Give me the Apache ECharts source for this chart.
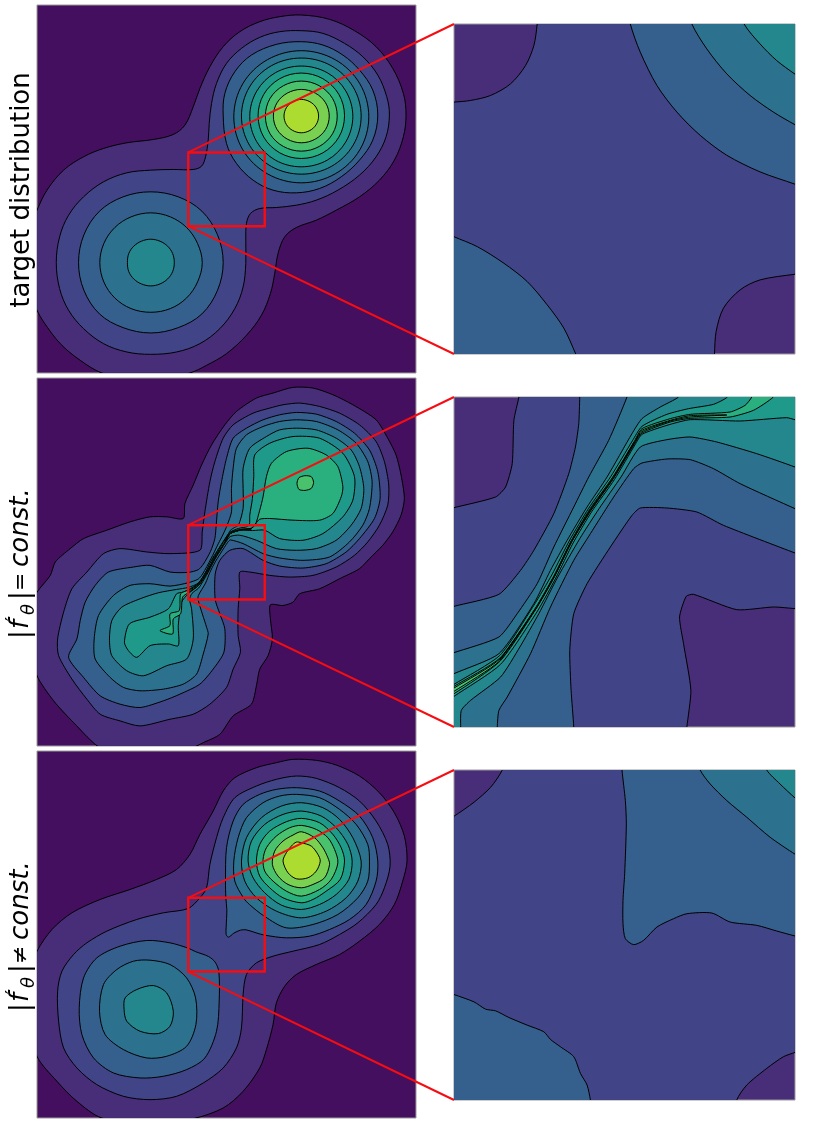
<!DOCTYPE html>
<html>
<head>
<meta charset="utf-8">
<title>contours</title>
<script src="https://cdn.jsdelivr.net/npm/echarts@6/dist/echarts.min.js"></script>
<style>
  html, body { margin: 0; padding: 0; background: #fff; }
  #chart { width: 831px; height: 1124px; }
</style>
</head>
<body>
<div id="chart"></div>
<script>
// band colours, outermost to innermost
const viridis = ['#440f5e', '#482d78', '#414487', '#355f8d', '#2c728e', '#24878e', '#1f9a8a', '#2ab07f', '#4ac16d', '#7ad151', '#addc30'];

// ---- target distribution, whole view ----
const targetL1 = [[815,45],[900,58],[975,92],[1040,140],[1090,205],[1122,280],[1130,345],[1122,410],[1095,480],[1050,540],[990,590],[920,630],[860,660],[800,682],[765,710],[745,760],[735,820],[722,880],[695,945],[650,1005],[590,1060],[530,1095],[480,1118],[420,1130],[350,1135],[280,1130],[215,1118],[150,1080],[90,1030],[40,965],[20,930],[0,880],[-10,790],[0,680],[20,630],[50,570],[100,510],[160,470],[220,445],[290,428],[370,418],[430,403],[465,375],[490,320],[510,265],[540,200],[580,140],[630,95],[690,65],[750,50]];
const targetL2 = [[815,92],[880,100],[945,130],[1000,170],[1045,225],[1072,290],[1080,345],[1070,410],[1040,470],[990,525],[925,570],[860,600],[800,615],[740,622],[690,625],[662,640],[650,670],[648,720],[648,790],[640,860],[615,925],[570,985],[510,1030],[440,1055],[362,1062],[290,1055],[220,1030],[160,985],[115,930],[88,865],[78,787],[88,710],[115,645],[160,590],[220,545],[290,518],[362,510],[430,508],[490,508],[515,498],[527,470],[535,420],[538,370],[545,310],[560,250],[590,190],[635,145],[690,112],[750,95]];
const targetL3a = [[815,125],[880,135],[940,165],[990,210],[1030,270],[1045,345],[1030,420],[990,480],[935,530],[870,565],[800,578],[730,570],[670,540],[620,490],[590,430],[580,345],[585,280],[615,215],[665,165],[740,133]];
const targetL3b = [[362,575],[445,590],[516,633],[563,704],[580,787],[563,870],[516,941],[445,982],[362,998],[279,982],[208,941],[161,870],[145,787],[161,704],[208,633],[279,590]];
const targetL4a = [[815,152],[917,179],[991,251],[1018,350],[991,449],[917,521],[815,548],[713,521],[639,449],[612,350],[639,251],[713,179]];
const targetL4b = [[362,638],[421,650],[470,682],[503,730],[517,787],[503,845],[470,893],[421,925],[362,936],[303,925],[254,893],[221,845],[209,787],[221,730],[254,682],[303,650]];
const targetL5a = [[815,174],[905,197],[971,261],[995,348],[971,435],[905,499],[815,522],[725,499],[659,435],[635,348],[659,261],[725,197]];
const targetL5b = [[362,717],[390,723],[413,738],[428,760],[433,787],[428,814],[413,836],[390,851],[362,857],[334,851],[311,836],[296,814],[292,787],[296,760],[311,738],[334,723]];
const targetL6 = [[815,198],[893,218],[949,273],[970,349],[949,425],[893,480],[815,500],[737,480],[681,425],[660,349],[681,273],[737,218]];
const targetL7 = [[815,219],[880,236],[928,283],[945,347],[928,411],[880,458],[815,475],[750,458],[702,411],[685,347],[702,283],[750,236]];
const targetL8 = [[815,243],[869,257],[909,295],[923,348],[909,401],[869,439],[815,453],[761,439],[721,401],[707,348],[721,295],[761,257]];
const targetL9 = [[815,268],[857,279],[888,308],[899,348],[888,388],[857,417],[815,428],[773,417],[742,388],[731,348],[742,308],[773,279]];
const targetL10 = [[815,298],[841,305],[860,323],[867,348],[860,373],[841,391],[815,398],[789,391],[770,373],[763,348],[770,323],[789,305]];

// ---- target distribution, close-up ----
const targetZoomL2 = [[290,0],[290,25],[280,90],[255,150],[210,205],[150,240],[90,255],[40,260],[0,262],[0,1050],[823,1050],[823,1018],[828,950],[850,880],[900,825],[960,795],[1065,778],[1100,775],[1100,0]];
const targetZoomL3a = [[570,0],[570,25],[600,110],[650,210],[710,290],[780,360],[860,420],[960,470],[1065,507],[1100,520],[1100,0]];
const targetZoomL3b = [[0,645],[40,665],[110,695],[190,745],[260,800],[320,870],[370,940],[406,1018],[420,1050],[0,1050]];
const targetZoomL4 = [[755,0],[755,25],[800,100],[860,175],[930,240],[1000,290],[1065,328],[1100,345],[1100,0]];
const targetZoomL5 = [[912,0],[912,25],[960,85],[1010,135],[1065,176],[1100,200],[1100,0]];

// ---- const. model, whole view ----
const constL1 = [[790,38],[850,40],[910,60],[970,90],[1040,135],[1075,190],[1100,240],[1115,300],[1125,370],[1115,420],[1090,470],[1060,510],[1020,550],[990,580],[930,610],[870,640],[810,655],[790,680],[760,690],[722,688],[722,730],[728,790],[715,840],[690,880],[680,930],[665,985],[610,1020],[570,1075],[520,1100],[480,1118],[350,1135],[215,1118],[130,1040],[70,975],[20,900],[-5,800],[-5,700],[20,650],[60,600],[75,560],[120,520],[160,490],[230,465],[300,440],[360,425],[410,425],[460,430],[465,385],[490,330],[515,270],[545,210],[585,150],[620,110],[680,70],[730,55]];
const constL2 = [[760,90],[810,85],[870,95],[930,115],[990,150],[1040,200],[1065,260],[1078,330],[1075,390],[1050,450],[1015,500],[975,540],[920,575],[850,600],[780,605],[720,600],[660,590],[630,590],[630,640],[625,700],[625,780],[632,830],[610,880],[590,935],[540,985],[490,1015],[420,1030],[330,1050],[270,1035],[210,1015],[170,970],[125,910],[85,840],[82,790],[100,710],[125,640],[170,590],[220,535],[270,520],[350,530],[420,535],[510,525],[517,470],[525,410],[540,320],[555,260],[580,190],[610,150],[670,115],[720,100]];
const constL3 = [[800,113],[860,118],[920,140],[975,175],[1020,225],[1045,290],[1052,370],[1035,430],[990,490],[950,530],[890,565],[820,578],[750,572],[700,555],[640,520],[600,525],[570,555],[556,596],[556,672],[570,715],[585,760],[582,830],[550,880],[510,925],[450,955],[400,975],[330,995],[270,985],[210,960],[160,905],[115,845],[140,790],[150,735],[165,680],[195,630],[235,590],[310,575],[360,570],[420,590],[475,591],[505,583],[520,567],[542,528],[555,490],[559,450],[565,380],[575,320],[590,250],[610,190],[650,160],[700,135],[750,120]];
const constL4 = [[800,135],[860,140],[925,165],[980,205],[1015,260],[1028,320],[1020,400],[1000,450],[960,500],[900,545],[820,555],[750,548],[700,535],[640,505],[602,494],[596,498],[583,517],[556,560],[540,591],[527,623],[505,661],[505,675],[530,755],[535,775],[520,835],[500,895],[460,925],[400,940],[330,945],[280,935],[240,905],[195,850],[192,790],[205,720],[250,660],[300,630],[360,625],[420,632],[475,622],[505,611],[518,596],[543,551],[566,504],[579,479],[592,450],[605,410],[605,340],[610,280],[620,220],[650,180],[700,155],[750,140]];
const constL5 = [[800,160],[860,165],[920,190],[965,225],[990,275],[1003,340],[995,400],[965,450],[920,495],[860,520],[800,525],[740,520],[680,495],[630,480],[601,484],[587,502],[572,525],[559,545],[545,571],[532,596],[519,618],[506,638],[486,654],[479,672],[485,700],[490,790],[470,850],[410,870],[340,900],[290,885],[245,840],[238,790],[245,735],[275,695],[330,670],[385,652],[440,642],[475,636],[505,623],[527,591],[539,567],[550,546],[564,524],[577,504],[596,475],[602,465],[614,457],[626,450],[640,400],[640,340],[640,280],[660,220],[710,185],[750,165]];
const constL6 = [[675,240],[720,205],[790,185],[870,190],[940,235],[975,305],[970,375],[940,425],[880,475],[820,495],[750,490],[705,465],[668,466],[634,465],[602,475],[588,497],[574,517],[559,541],[546,563],[534,586],[523,606],[506,630],[475,655],[455,680],[445,750],[445,810],[415,805],[360,810],[320,845],[295,825],[283,800],[298,745],[360,725],[415,700],[440,655],[460,650],[475,643],[506,624],[528,589],[540,564],[552,545],[565,523],[578,503],[594,479],[602,470],[619,462],[633,458],[650,455],[659,448],[660,420],[668,370],[672,305]];
const constL7 = [[678,445],[690,432],[720,430],[790,435],[870,435],[910,415],[935,365],[940,335],[925,275],[890,240],[835,220],[770,230],[725,265],[710,305],[700,365],[690,405],[676,450],[661,460],[634,462],[602,471],[595,480],[580,502],[554,546],[529,591],[506,625],[475,644],[452,655],[448,705],[420,715],[420,750],[390,765],[428,775],[430,730],[452,715],[458,665],[475,652],[506,629],[530,593],[555,548],[582,507],[597,480],[602,474],[634,464],[661,463]];
const constL8a = [[802,325],[808,308],[826,302],[845,305],[852,322],[845,340],[826,346],[808,343]];
const constL8b = [[475,647],[506,627],[530,591],[555,547],[582,505],[597,478],[602,472],[634,463],[665,461],[634,464],[602,474],[597,480],[582,507],[556,549],[531,593],[507,629],[475,650]];

// ---- const. model, close-up ----
const constZoomL2 = [[235,0],[235,20],[220,90],[215,220],[195,290],[165,320],[40,352],[0,362],[0,1050],[737,1050],[740,1010],[752,900],[730,760],[718,680],[738,618],[760,612],[890,658],[1000,650],[1065,655],[1100,660],[1100,0]];
const constZoomL3 = [[418,0],[418,20],[415,100],[405,170],[385,250],[340,370],[280,480],[240,540],[175,612],[40,648],[0,660],[0,1050],[400,1050],[400,1010],[392,900],[388,780],[400,670],[440,580],[510,470],[575,375],[600,353],[680,353],[770,365],[850,405],[1065,488],[1100,500],[1100,0]];
const constZoomL4 = [[562,0],[560,20],[505,150],[445,260],[400,350],[340,470],[290,580],[230,670],[175,740],[40,787],[0,800],[0,1050],[170,1050],[170,1010],[175,960],[200,920],[270,790],[330,650],[400,510],[450,430],[520,320],[580,235],[605,218],[680,206],[750,208],[820,235],[900,280],[1065,355],[1100,370],[1100,0]];
const constZoomL5 = [[715,0],[715,20],[660,50],[605,85],[575,130],[500,260],[440,350],[380,450],[330,540],[280,640],[175,790],[40,850],[0,870],[0,1050],[60,1050],[60,1010],[62,960],[90,930],[180,860],[238,770],[295,670],[352,560],[418,445],[476,355],[542,260],[600,170],[680,148],[750,140],[830,155],[950,190],[1065,230],[1100,245],[1100,0]];
const constZoomL6 = [[862,0],[862,20],[820,42],[745,55],[680,72],[605,108],[576,152],[511,259],[444,355],[388,449],[335,552],[280,645],[178,795],[40,882],[0,905],[0,945],[40,918],[180,822],[291,662],[346,563],[398,458],[454,364],[522,268],[586,160],[605,132],[680,105],[750,88],[900,92],[1040,82],[1065,88],[1100,92],[1100,0]];
const constZoomL7 = [[935,0],[935,20],[915,45],[870,65],[750,72],[690,85],[605,115],[581,155],[516,262],[447,358],[392,452],[340,557],[285,653],[178,803],[40,888],[0,912],[0,925],[40,910],[178,813],[286,656],[342,559],[394,454],[451,361],[519,265],[584,158],[605,128],[690,95],[750,84],[870,80],[940,60],[1000,20],[1000,0]];
const constZoomL8 = [[0,915],[40,893],[178,806],[285,654],[341,558],[393,453],[449,359],[517,263],[582,156],[605,120],[690,90],[750,76],[860,74],[750,80],[690,92],[605,124],[583,157],[518,264],[450,360],[393,453],[341,558],[286,655],[178,811],[40,903],[0,925]];
const constZoomL9 = [[178,809],[285,655],[341,558],[393,453],[450,360],[517,264],[581,156],[518,265],[451,361],[394,454],[342,559],[286,656]];

// ---- non-const. model, whole view ----
const flexL1 = [[790,35],[860,38],[920,52],[990,85],[1050,135],[1095,195],[1125,265],[1133,340],[1120,400],[1095,470],[1050,530],[990,580],[930,620],[860,650],[800,680],[765,715],[740,765],[730,830],[710,905],[690,960],[640,1030],[580,1080],[490,1112],[360,1130],[215,1110],[140,1060],[80,1000],[20,925],[-10,800],[-5,680],[20,610],[65,545],[125,495],[210,455],[300,425],[380,395],[440,365],[480,320],[510,260],[550,190],[580,130],[615,90],[680,60],[740,45]];
const flexL2 = [[800,85],[860,92],[930,120],[990,160],[1040,220],[1075,290],[1082,355],[1065,420],[1040,470],[985,525],[930,560],[870,590],[790,610],[730,625],[680,645],[650,680],[640,740],[635,840],[620,900],[580,960],[520,1005],[440,1045],[360,1055],[280,1045],[200,1010],[140,960],[100,900],[85,820],[82,730],[95,670],[130,620],[170,585],[230,550],[320,515],[400,495],[475,482],[510,450],[530,420],[540,350],[560,270],[580,210],[615,150],[680,115],[740,95]];
const flexL3a = [[800,120],[870,130],[930,160],[990,205],[1030,270],[1045,340],[1040,400],[1010,470],[960,515],[900,545],[840,565],[770,570],[705,562],[679,555],[649,546],[632,547],[612,556],[596,568],[589,560],[589,538],[591,486],[588,450],[587,400],[590,300],[610,220],[640,170],[690,140],[740,125]];
const flexL3b = [[475,601],[496,611],[536,626],[556,643],[567,672],[568,760],[560,850],[525,930],[470,965],[400,985],[330,990],[250,975],[190,930],[155,860],[147,780],[160,690],[200,630],[270,595],[350,578],[420,585]];
const flexL4a = [[800,140],[870,150],[930,185],[980,230],[1015,290],[1020,340],[1015,400],[985,450],[925,500],[850,530],[770,540],[705,506],[659,470],[641,450],[615,400],[612,340],[625,270],[650,210],[700,165],[750,145]];
const flexL4b = [[360,637],[420,650],[470,690],[497,750],[498,830],[470,895],[410,925],[350,930],[280,905],[225,860],[208,790],[220,710],[260,665],[310,640]];
const flexL5a = [[815,165],[880,180],[930,215],[970,270],[995,340],[985,400],[950,450],[890,490],[815,510],[740,490],[680,450],[645,400],[635,340],[650,270],[695,210],[755,175]];
const flexL5b = [[285,750],[320,725],[370,713],[410,735],[430,790],[420,835],[385,857],[330,850],[290,820],[282,785]];
const flexL6 = [[815,190],[875,205],[920,240],[955,290],[968,340],[958,395],[920,440],[870,470],[815,485],[755,472],[705,435],[670,390],[655,340],[665,280],[705,230],[760,200]];
const flexL7 = [[815,212],[870,225],[910,260],[935,300],[945,340],[932,395],[890,430],[850,455],[815,465],[760,450],[720,420],[690,385],[680,340],[690,290],[720,250],[770,222]];
const flexL8 = [[815,233],[860,245],[895,270],[915,305],[925,345],[905,395],[870,425],[815,445],[770,430],[730,400],[705,370],[700,335],[710,300],[740,265],[780,240]];
const flexL9 = [[815,252],[855,270],[880,300],[895,330],[900,350],[885,390],[850,410],[815,420],[775,410],[745,385],[728,350],[735,310],[760,280],[790,262]];
const flexL10 = [[800,283],[815,285],[845,295],[865,320],[872,340],[860,370],[835,390],[800,393],[775,375],[760,340],[770,315],[785,295]];

// ---- non-const. model, close-up ----
const flexZoomL2 = [[185,0],[185,28],[150,80],[100,125],[40,167],[0,190],[0,1060],[890,1060],[890,1020],[920,975],[980,925],[1030,890],[1065,877],[1100,865],[1100,0]];
const flexZoomL3a = [[545,0],[545,28],[555,120],[558,190],[553,340],[548,420],[548,490],[555,535],[580,553],[610,540],[650,500],[700,475],[740,460],[815,458],[870,485],[950,495],[1010,512],[1065,527],[1100,535],[1100,0]];
const flexZoomL3b = [[0,690],[40,703],[100,725],[135,747],[165,752],[205,772],[260,795],[310,815],[330,838],[360,860],[400,890],[420,940],[440,975],[450,1020],[455,1060],[0,1060]];
const flexZoomL4 = [[780,0],[780,28],[810,70],[860,120],[920,170],[990,230],[1065,281],[1100,300],[1100,0]];
const flexZoomL5 = [[980,0],[980,28],[1020,70],[1065,112],[1100,140],[1100,0]];

// red zoom boxes on the whole views
const targetBox = [[475,457],[705,678]];
const constBox = [[475,450],[705,672]];
const flexBox = [[475,450],[705,671]];

const panels = [
  {
    grid: { left: 37, top: 5, width: 379, height: 368 }, x: [20,1160], y: [15,1118], base: 0, box: targetBox, zoomTo: 3, smooth: 0.35,
    levels: [[1,targetL1],[2,targetL2],[3,targetL3a],[3,targetL3b],[4,targetL4a],[4,targetL4b],[5,targetL5a],[5,targetL5b],[6,targetL6],[7,targetL7],[8,targetL8],[9,targetL9],[10,targetL10]],
  },
  {
    grid: { left: 37, top: 378, width: 379, height: 368 }, x: [20,1160], y: [10,1110], base: 0, box: constBox, zoomTo: 4, smooth: 0.25,
    levels: [[1,constL1],[2,constL2],[3,constL3],[4,constL4],[5,constL5],[6,constL6],[7,constL7],[8,constL8a],[8,constL8b]],
  },
  {
    grid: { left: 37, top: 751, width: 379, height: 367 }, x: [20,1160], y: [10,1110], base: 0, box: flexBox, zoomTo: 5, smooth: 0.3,
    levels: [[1,flexL1],[2,flexL2],[3,flexL3a],[3,flexL3b],[4,flexL4a],[4,flexL4b],[5,flexL5a],[5,flexL5b],[6,flexL6],[7,flexL7],[8,flexL8],[9,flexL9],[10,flexL10]],
  },
  {
    grid: { left: 454, top: 24, width: 341, height: 330 }, x: [40,1065], y: [25,1018], base: 1, smooth: 0.3,
    levels: [[2,targetZoomL2],[3,targetZoomL3a],[3,targetZoomL3b],[4,targetZoomL4],[5,targetZoomL5]],
  },
  {
    grid: { left: 454, top: 397, width: 341, height: 330 }, x: [40,1065], y: [20,1010], base: 1, smooth: 0.2,
    levels: [[2,constZoomL2],[3,constZoomL3],[4,constZoomL4],[5,constZoomL5],[6,constZoomL6],[7,constZoomL7],[8,constZoomL8],[9,constZoomL9]],
  },
  {
    grid: { left: 454, top: 770, width: 341, height: 330 }, x: [40,1065], y: [28,1020], base: 1, smooth: 0.25,
    levels: [[2,flexZoomL2],[3,flexZoomL3a],[3,flexZoomL3b],[4,flexZoomL4],[5,flexZoomL5]],
  },
];

const series = [];
panels.forEach((p, i) => {
  series.push({
    type: 'custom',
    xAxisIndex: i,
    yAxisIndex: i,
    clip: true,
    silent: true,
    animation: false,
    data: p.levels.map((l, k) => [k, k]),
    renderItem: (params, api) => {
      const item = p.levels[params.dataIndex];
      return {
        type: 'polygon',
        shape: { points: item[1].map((pt) => api.coord(pt)), smooth: p.smooth },
        style: { fill: viridis[item[0]], stroke: '#000', lineWidth: 1 },
      };
    },
  });
  if (p.box) {
    const target = panels[p.zoomTo].grid;
    series.push({
      type: 'custom',
      xAxisIndex: i,
      yAxisIndex: i,
      clip: false,
      silent: true,
      z: 10,
      animation: false,
      data: [p.box[0]],
      renderItem: (params, api) => {
        const a = api.coord(p.box[0]);
        const b = api.coord(p.box[1]);
        const frame = { stroke: '#f50d12', fill: null, lineWidth: 2.4 };
        const link = { stroke: '#f50d12', fill: null, lineWidth: 2 };
        return {
          type: 'group',
          children: [
            { type: 'rect', shape: { x: a[0], y: a[1], width: b[0] - a[0], height: b[1] - a[1] }, style: frame },
            { type: 'line', shape: { x1: a[0], y1: a[1], x2: target.left, y2: target.top }, style: link },
            { type: 'line', shape: { x1: a[0], y1: b[1], x2: target.left, y2: target.top + target.height }, style: link },
          ],
        };
      },
    });
  }
});

const upright = '26px "DejaVu Sans"';
const slanted = 'italic 26px "DejaVu Sans"';
const small = '18px "DejaVu Sans"';
const smallSlant = 'italic 18px "DejaVu Sans"';
const relation = '22px "DejaVu Sans"';
function mathLabel(bottom, rel) {
  const part = (text, x, y, font) => ({ type: 'text', x, y, style: { text, font, fill: '#000', verticalAlign: 'middle' } });
  return {
    type: 'group',
    x: 21.5,
    y: bottom,
    rotation: Math.PI / 2,
    silent: true,
    children: [
      part('|', -2, 0, upright),
      part('f', 8, 0, slanted),
      part('\u2032', 16, -8, small),
      part('\u03b8', 22, 8, smallSlant),
      part('|', 37, 0, upright),
      part(rel, 46, 0, relation),
      part('const.', 70, 0, slanted),
    ],
  };
}

const option = {
  animation: false,
  backgroundColor: '#fff',
  graphic: [
    {
      type: 'text',
      x: 22,
      y: 190,
      rotation: Math.PI / 2,
      silent: true,
      style: { text: 'target distribution', font: upright, fill: '#000', align: 'center', verticalAlign: 'middle' },
    },
    mathLabel(637, '='),
    mathLabel(1010, '\u2260'),
  ],
  grid: panels.map((p) => ({ ...p.grid, show: true, backgroundColor: viridis[p.base], borderColor: '#9a9a9a', borderWidth: 1 })),
  xAxis: panels.map((p, i) => ({ type: 'value', gridIndex: i, min: p.x[0], max: p.x[1], show: false })),
  yAxis: panels.map((p, i) => ({ type: 'value', gridIndex: i, min: p.y[0], max: p.y[1], inverse: true, show: false })),
  series,
};

const chart = echarts.init(document.getElementById('chart'), null, { renderer: 'canvas' });
chart.setOption(option);
</script>
</body>
</html>
